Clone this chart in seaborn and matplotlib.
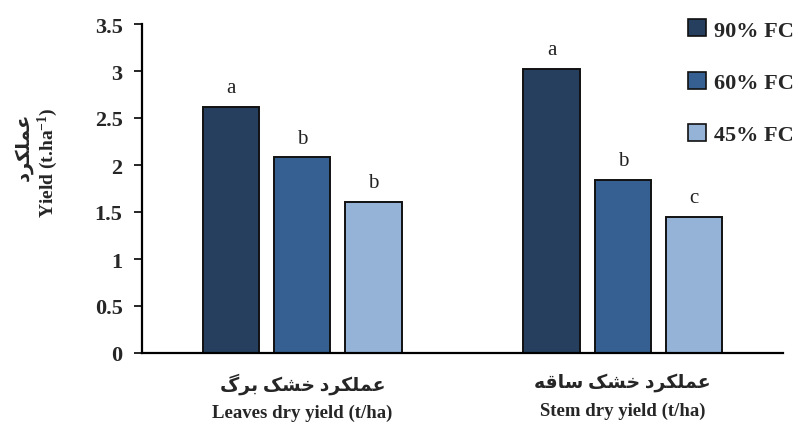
import matplotlib
matplotlib.use("Agg")
import matplotlib.pyplot as plt
from matplotlib.patches import Patch
import seaborn as sns
import pandas as pd

# ---------------- data ----------------
parts = ["Leaves", "Stem"]
treatments = ["90% FC", "60% FC", "45% FC"]
leaves_yield = [2.62, 2.08, 1.61]
stem_yield = [3.02, 1.84, 1.45]
letters_90 = ["a", "a"]
letters_60 = ["b", "b"]
letters_45 = ["b", "c"]
xlabel_fa = ["عملکرد خشک برگ", "عملکرد خشک ساقه"]
xlabel_en = ["Leaves dry yield (t/ha)", "Stem dry yield (t/ha)"]
ylabel_fa = "عملکرد"
ylabel_en = r"Yield (t.ha$^{\mathbf{-1}}$)"
y_ticks = [0, 0.5, 1, 1.5, 2, 2.5, 3, 3.5]
y_tick_labels = ["0", "0.5", "1", "1.5", "2", "2.5", "3", "3.5"]
colors = ["#263F5E", "#376092", "#95B3D7"]

# ------------- minimal Persian shaping (matplotlib has no bidi/shaping) -------------
FORMS = {  # isolated, final, initial, medial
    "ع": ("\uFEC9", "\uFECA", "\uFECB", "\uFECC"),
    "م": ("\uFEE1", "\uFEE2", "\uFEE3", "\uFEE4"),
    "ل": ("\uFEDD", "\uFEDE", "\uFEDF", "\uFEE0"),
    "ک": ("\uFB8E", "\uFB8F", "\uFB90", "\uFB91"),
    "ر": ("\uFEAD", "\uFEAE", None, None),
    "د": ("\uFEA9", "\uFEAA", None, None),
    "خ": ("\uFEA5", "\uFEA6", "\uFEA7", "\uFEA8"),
    "ش": ("\uFEB5", "\uFEB6", "\uFEB7", "\uFEB8"),
    "ب": ("\uFE8F", "\uFE90", "\uFE91", "\uFE92"),
    "گ": ("\uFB92", "\uFB93", "\uFB94", "\uFB95"),
    "س": ("\uFEB1", "\uFEB2", "\uFEB3", "\uFEB4"),
    "ا": ("\uFE8D", "\uFE8E", None, None),
    "ق": ("\uFED5", "\uFED6", "\uFED7", "\uFED8"),
    "ه": ("\uFEE9", "\uFEEA", "\uFEEB", "\uFEEC"),
}


def shape_fa(text):
    out = []
    n = len(text)
    for i, ch in enumerate(text):
        if ch not in FORMS:
            out.append(ch)
            continue
        f = FORMS[ch]
        prev = text[i - 1] if i > 0 else None
        nxt = text[i + 1] if i < n - 1 else None
        j_prev = prev in FORMS and FORMS[prev][2] is not None
        j_next = nxt in FORMS and f[2] is not None
        if j_prev and j_next:
            g = f[3]
        elif j_prev:
            g = f[1]
        elif j_next:
            g = f[2]
        else:
            g = f[0]
        out.append(g)
    return "".join(reversed(out))


# ---------------- style ----------------
sns.set_style("ticks")
plt.rcParams["font.family"] = ["Liberation Serif", "DejaVu Sans"]
plt.rcParams["mathtext.fontset"] = "custom"
plt.rcParams["mathtext.rm"] = "Liberation Serif"
plt.rcParams["mathtext.bf"] = "Liberation Serif:bold"
plt.rcParams["mathtext.it"] = "Liberation Serif:italic"

df = pd.DataFrame({
    "part": [p for p in parts for _ in treatments],
    "treatment": treatments * len(parts),
    "yield": leaves_yield + stem_yield,
})

fig = plt.figure(figsize=(7.99, 4.27), dpi=100)
ax = fig.add_axes([142 / 799, 73 / 427, 641 / 799, 329 / 427])

sns.barplot(data=df, x="part", y="yield", hue="treatment", order=parts,
            hue_order=treatments, palette=colors, saturation=1,
            width=0.667, gap=0.21, errorbar=None, edgecolor="#111111",
            linewidth=1.4, legend=False, ax=ax)

for cont, labs in zip(ax.containers, [letters_90, letters_60, letters_45]):
    ax.bar_label(cont, labels=labs, padding=7, fontsize=15, color="#222222",
                 fontweight="normal")

ax.set_xlim(-0.5, 1.5)
ax.set_ylim(0, 3.5)
ax.set_yticks(y_ticks)
ax.set_yticklabels(y_tick_labels, fontsize=16, fontweight="bold")
ax.set_xticks(range(len(parts)))
ax.set_xticklabels([shape_fa(f) + "\n" + e for f, e in zip(xlabel_fa, xlabel_en)],
                   fontsize=13.5, fontweight="bold", linespacing=1.75)
ax.tick_params(axis="x", length=0, pad=14)
ax.tick_params(axis="y", length=6, width=1.4, pad=8, direction="out")
ax.set_xlabel("")
ax.set_ylabel("")
sns.despine(ax=ax)
for s in ["left", "bottom"]:
    ax.spines[s].set_linewidth(1.6)
    ax.spines[s].set_color("black")

ax.text(-0.1466, 0.581, ylabel_en, transform=ax.transAxes, rotation=90,
        ha="center", va="center", fontsize=14, fontweight="bold")
ax.text(-0.1856, 0.63, shape_fa(ylabel_fa), transform=ax.transAxes, rotation=90,
        ha="center", va="center", fontsize=14, fontweight="bold")

handles = [Patch(facecolor=c, edgecolor="#111111", linewidth=1.2) for c in colors]
fig.legend(handles, treatments, loc="upper left", bbox_to_anchor=(688 / 799, 0.952),
           bbox_transform=fig.transFigure, frameon=False, borderpad=0,
           borderaxespad=0, handlelength=0.8, handleheight=0.8,
           handletextpad=0.35, labelspacing=1.4,
           prop={"family": "Liberation Serif", "weight": "bold", "size": 16})

fig.savefig("out.png", dpi=100)
